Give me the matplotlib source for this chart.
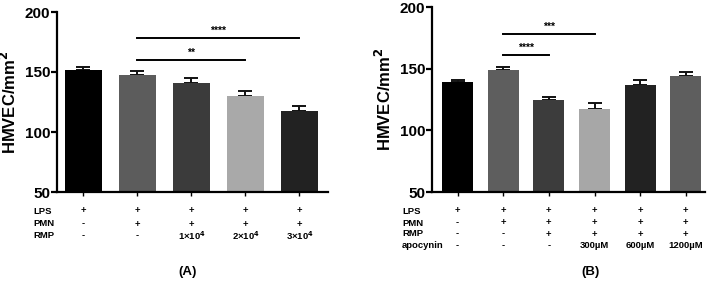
import matplotlib

matplotlib.use("Agg")
import matplotlib.pyplot as plt
from matplotlib.transforms import blended_transform_factory

plt.rcParams["font.family"] = ["Liberation Sans", "DejaVu Sans"]
plt.rcParams["font.weight"] = "bold"

# panel A
a_means = [151.4, 147.5, 140.6, 130.0, 117.5]
a_err = [2.6, 3.0, 4.1, 4.4, 4.2]
a_colors = ["#000000", "#5c5c5c", "#3b3b3b", "#a9a9a9", "#222222"]
a_rows = ["LPS", "PMN", "RMP"]
a_cells = [
    ["+", "+", "+", "+", "+"],
    ["-", "+", "+", "+", "+"],
    ["-", "-", "1×10$^{4}$", "2×10$^{4}$", "3×10$^{4}$"],
]
a_sig = [(1, 4, 178, "****"), (1, 3, 160, "**")]

# panel B
b_means = [139.1, 149.4, 124.7, 117.2, 137.2, 144.5]
b_err = [1.6, 2.0, 2.7, 4.8, 4.0, 3.2]
b_colors = ["#000000", "#5e5e5e", "#3c3c3c", "#a7a7a7", "#222222", "#5e5e5e"]
b_rows = ["LPS", "PMN", "RMP", "apocynin"]
b_cells = [
    ["+", "+", "+", "+", "+", "+"],
    ["-", "+", "+", "+", "+", "+"],
    ["-", "-", "+", "+", "+", "+"],
    ["-", "-", "-", "300\u00b5M", "600\u00b5M", "1200\u00b5M"],
]
b_sig = [(1, 3, 178, "***"), (1, 2, 161, "****")]

W, H = 714, 285
fig = plt.figure(figsize=(W / 100, H / 100), dpi=100)


def panel(rect, xlim, means, err, colors, rows, cells, sig, row_x, row_y, label, label_x):
    ax = fig.add_axes(rect)
    x = list(range(len(means)))
    ax.bar(x, means, width=0.68, color=colors, zorder=2)
    ax.errorbar(x, means, yerr=[[0] * len(err), err], fmt="none", ecolor="#111111",
                elinewidth=1.4, capsize=5, capthick=1.4, zorder=1)
    ax.set_xlim(*xlim)
    ax.set_ylim(50, 200)
    ax.set_yticks([50, 100, 150, 200])
    ax.set_xticks(x)
    ax.set_xticklabels([])
    for s in ("top", "right"):
        ax.spines[s].set_visible(False)
    for s in ("left", "bottom"):
        ax.spines[s].set_linewidth(1.6)
    ax.tick_params(axis="y", width=1.6, length=4, labelsize=11, pad=1)
    ax.tick_params(axis="x", width=1.0, length=3)
    for t in ax.get_yticklabels():
        t.set_fontweight("bold")
    ax.set_ylabel("HMVEC/mm$^{\\mathbf{2}}$", fontsize=12, fontweight="bold", labelpad=4)
    for i0, i1, y, txt in sig:
        ax.plot([i0, i1], [y, y], color="black", lw=1.4, clip_on=False)
        ax.text((i0 + i1) / 2, y + 2, txt, ha="center", va="bottom", fontsize=7.5, fontweight="bold")
    tr = blended_transform_factory(ax.transData, fig.transFigure)
    for r, (name, vals) in enumerate(zip(rows, cells)):
        yy = 1 - row_y[r] / H
        fig.text(row_x / W, yy, name, ha="left", va="center", fontsize=6.8, fontweight="bold")
        for i, v in enumerate(vals):
            fig.text(i, yy, v, transform=tr, ha="center", va="center", fontsize=6.8, fontweight="bold")
    fig.text(label_x / W, 1 - 272 / H, label, ha="center", va="center", fontsize=9.5, fontweight="bold")
    return ax


panel([57 / W, 1 - 192 / H, (328 - 57) / W, 180 / H], (-0.49, 4.53),
      a_means, a_err, a_colors, a_rows, a_cells, a_sig, 33, [211, 224, 236], "(A)", 188)
panel([432 / W, 1 - 192 / H, (705 - 432) / W, (192 - 7.3) / H], (-0.56, 5.42),
      b_means, b_err, b_colors, b_rows, b_cells, b_sig, 402, [211, 223, 234, 246], "(B)", 590)

fig.savefig("out.png", dpi=100)
